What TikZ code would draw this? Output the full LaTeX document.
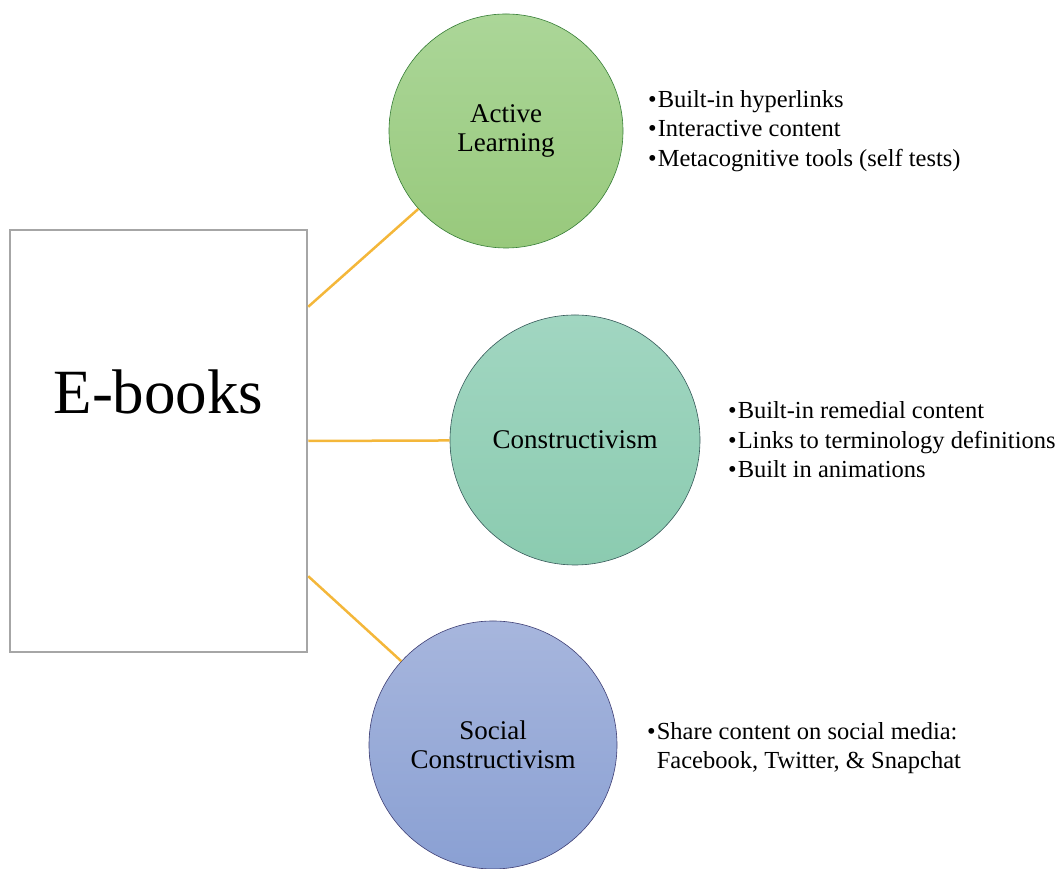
\documentclass[tikz,border=0pt]{standalone}
\usepackage{fontspec}
\setmainfont{Liberation Serif}
\usepackage{tikz}
\definecolor{linkgold}{HTML}{F4B73A}
\definecolor{boxgray}{HTML}{A6A6A6}
\tikzset{
    topic/.style={circle, inner sep=0pt, draw=#1!70!black, line width=0.6pt,
        align=center, font=\fontsize{27}{29}\selectfont},
    notes/.style={anchor=west, inner sep=0pt, align=left,
        font=\fontsize{24.5}{29.5}\selectfont},
    link/.style={draw=linkgold, line width=2.5pt}
}
\def\Bul{\textbullet\hspace{1pt}}

\begin{document}
\begin{tikzpicture}[x=1pt, y=1pt]
    \useasboundingbox (0,0) rectangle (1061,869);
    \node[draw=boxgray, line width=2.5pt, minimum width=297, minimum height=422] (eb) at (158.5, 428) {}; % main box
    \node[font=\fontsize{63}{63}\selectfont] (ebt) at ([yshift=49]eb.center) {E-books};
    \node[topic=green!40!gray, top color={rgb,255:red,171;green,214;blue,152}, bottom color={rgb,255:red,152;green,201;blue,124}, minimum size=234] (al) at (506, 738) {Active\\Learning};
    \node[topic=teal!40!gray, top color={rgb,255:red,161;green,214;blue,193}, bottom color={rgb,255:red,139;green,203;blue,176}, minimum size=250] (co) at (575, 429) {Constructivism};
    \node[topic=blue!30!gray, top color={rgb,255:red,167;green,182;blue,221}, bottom color={rgb,255:red,138;green,160;blue,211}, minimum size=248] (sc) at (493, 124) {Social\\Constructivism};
    \coordinate (p1) at ([yshift=-78]eb.north east);
    \coordinate (p3) at ([yshift=77]eb.south east);
    \draw[link] (p1) -- (al);
    \draw[link] (eb.east) -- (co);
    \draw[link] (p3) -- (sc);
    \node[notes] (aln) at (648, 738) {\Bul Built-in hyperlinks\\\Bul Interactive content\\\Bul Metacognitive tools (self tests)};
    \node[notes] (con) at (728, 429) {\Bul Built-in remedial content\\\Bul Links to terminology definitions\\\Bul Built in animations};
    \node[notes] (scn) at (647, 121) {\Bul Share content on social media:\\\hphantom{\Bul}Facebook, Twitter, \& Snapchat};
\end{tikzpicture}
\end{document}
